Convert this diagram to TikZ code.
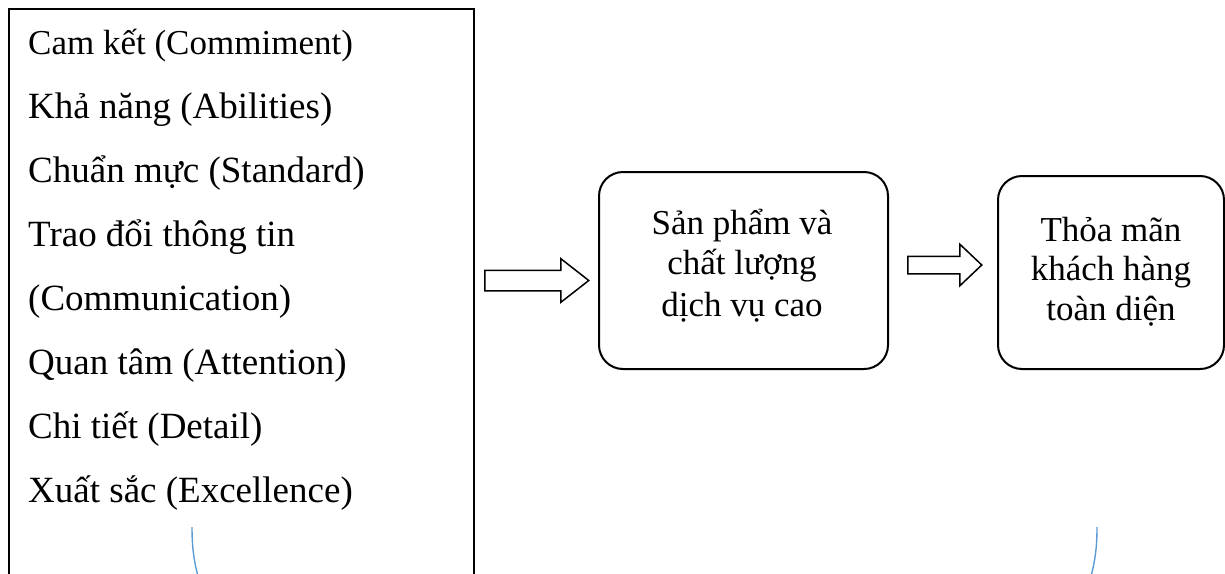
\documentclass[tikz,border=0pt]{standalone}
\usepackage{fontspec}
\setmainfont{Liberation Serif}
\usetikzlibrary{shapes.arrows}
\definecolor{traceblue}{RGB}{91,155,213}
\begin{document}
\begin{tikzpicture}[x=1pt,y=-1pt,
  txt/.style={font=\fontsize{35}{42}\selectfont, inner sep=0pt},
  listtxt/.style={font=\fontsize{37}{44}\selectfont, inner sep=0pt, anchor=base west},
  plainbox/.style={draw, line width=2pt, inner sep=0pt},
  roundbox/.style={draw, line width=2pt, rounded corners=24pt, inner sep=0pt},
  blockarrow/.style={single arrow, draw, line width=1.5pt, inner xsep=0pt, anchor=tail},
  trace/.style={draw=traceblue, line width=1.4pt}]
\useasboundingbox (0,0) rectangle (1225,573);
\clip (0,0) rectangle (1225,573);

% list of service factors
\node[plainbox, minimum width=465pt, minimum height=620pt, anchor=north west] (factors) at (8,8) {};
\node[listtxt, font=\fontsize{35}{42}\selectfont] (f1) at (28,54) {Cam kết (Commiment)};
\node[listtxt] (f2) at (28,118) {Khả năng (Abilities)};
\node[listtxt] (f3) at (28,182) {Chuẩn mực (Standard)};
\node[listtxt] (f4) at (28,246) {Trao đổi thông tin};
\node[listtxt] (f5) at (28,310) {(Communication)};
\node[listtxt] (f6) at (28,374) {Quan tâm (Attention)};
\node[listtxt] (f7) at (28,438) {Chi tiết (Detail)};
\node[listtxt] (f8) at (28,502) {Xuất sắc (Excellence)};

% product and service quality
\node[roundbox, minimum width=289pt, minimum height=197pt, anchor=north west] (svc) at (598,171) {};
\node[txt, anchor=base] (svc1) at (742,234) {Sản phẩm và};
\node[txt, anchor=base] (svc2) at (742,274) {chất lượng};
\node[txt, anchor=base] (svc3) at (742,316) {dịch vụ cao};

% customer satisfaction
\node[roundbox, minimum width=226pt, minimum height=193pt, anchor=north west] (sat) at (997,175) {};
\node[txt, anchor=base] (sat1) at (1111,241) {Thỏa mãn};
\node[txt, anchor=base] (sat2) at (1111,280) {khách hàng};
\node[txt, anchor=base] (sat3) at (1111,320) {toàn diện};

% block arrows between the stages
\node[blockarrow, minimum height=104pt, inner ysep=9.5pt,
      single arrow head extend=11.5pt, single arrow tip angle=76] (a1) at (484,280.5) {};
\node[blockarrow, minimum height=74pt, inner ysep=8pt,
      single arrow head extend=12pt, single arrow tip angle=87] (a2) at (907,265) {};

% curved link running below the boxes
\draw[trace] (192,527) .. controls (192,548) and (194,562) .. (199,580);
\draw[trace] (1097,527) .. controls (1097,548) and (1095,562) .. (1090,580);
\end{tikzpicture}
\end{document}
